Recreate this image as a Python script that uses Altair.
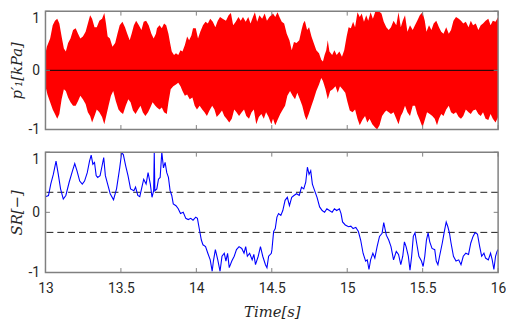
import altair as alt
import pandas as pd

# ---------------- data ----------------
# bottom panel: SR(t)
sr_time = [13.000, 13.020, 13.035, 13.052, 13.070, 13.085, 13.100, 13.118, 13.135, 13.157,
           13.179, 13.194, 13.209, 13.227, 13.244, 13.259, 13.277, 13.292, 13.303, 13.314,
           13.325, 13.336, 13.346, 13.362, 13.375, 13.386, 13.397, 13.412, 13.429, 13.451,
           13.471, 13.492, 13.505, 13.516, 13.532, 13.547, 13.564, 13.586, 13.597, 13.612,
           13.625, 13.641, 13.651, 13.667, 13.680, 13.695, 13.706, 13.717, 13.721, 13.725,
           13.738, 13.749, 13.760, 13.771, 13.782, 13.793, 13.804, 13.815, 13.826, 13.837,
           13.847, 13.865, 13.880, 13.895, 13.913, 13.930, 13.946, 13.963, 13.978, 13.996,
           14.007, 14.017, 14.033, 14.044, 14.061, 14.076, 14.092, 14.105, 14.113, 14.126,
           14.142, 14.157, 14.170, 14.185, 14.196, 14.207, 14.218, 14.235, 14.251, 14.266,
           14.283, 14.301, 14.316, 14.327, 14.338, 14.353, 14.370, 14.381, 14.392, 14.410,
           14.425, 14.440, 14.458, 14.468, 14.479, 14.497, 14.501, 14.512, 14.523, 14.534,
           14.545, 14.560, 14.573, 14.588, 14.603, 14.617, 14.632, 14.647, 14.664, 14.682,
           14.697, 14.712, 14.725, 14.736, 14.747, 14.758, 14.769, 14.784, 14.800, 14.817,
           14.834, 14.850, 14.865, 14.882, 14.900, 14.915, 14.930, 14.948, 14.959, 14.969,
           14.987, 15.009, 15.024, 15.039, 15.057, 15.074, 15.089, 15.105, 15.122, 15.133,
           15.144, 15.155, 15.170, 15.183, 15.198, 15.214, 15.231, 15.242, 15.259, 15.275,
           15.290, 15.307, 15.325, 15.340, 15.355, 15.368, 15.379, 15.390, 15.405, 15.416,
           15.427, 15.438, 15.449, 15.460, 15.475, 15.492, 15.503, 15.514, 15.525, 15.536,
           15.547, 15.562, 15.580, 15.590, 15.601, 15.612, 15.630, 15.645, 15.656, 15.667,
           15.678, 15.688, 15.704, 15.721, 15.739, 15.754, 15.769, 15.786, 15.804, 15.819,
           15.834, 15.847, 15.863, 15.878, 15.891, 15.906, 15.917, 15.935, 15.950, 15.961,
           15.972, 15.983, 15.993, 16.000]
sr_value = [0.26, 0.28, 0.47, 0.63, 0.85, 0.63, 0.39, 0.22, 0.28, 0.50,
            0.69, 0.81, 0.69, 0.52, 0.47, 0.52, 0.66, 0.85, 0.95, 0.80,
            0.83, 0.61, 0.58, 0.61, 0.77, 0.91, 0.61, 0.47, 0.31, 0.21,
            0.39, 0.74, 0.99, 0.96, 0.77, 0.61, 0.39, 0.36, 0.42, 0.28,
            0.26, 0.44, 0.55, 0.47, 0.66, 0.47, 0.25, 0.36, 1.00, 0.36,
            0.39, 0.55, 0.58, 1.00, 0.74, 0.83, 0.66, 0.58, 0.36, 0.28,
            0.14, 0.11, 0.06, -0.02, 0.00, -0.10, -0.12, -0.10, -0.13, -0.08,
            -0.10, -0.24, -0.46, -0.54, -0.57, -0.68, -0.79, -0.98, -0.81, -0.62,
            -0.79, -0.98, -0.73, -0.68, -0.81, -0.68, -0.92, -0.81, -0.73, -0.62,
            -0.57, -0.60, -0.68, -0.57, -0.73, -0.68, -0.79, -0.70, -0.87, -0.73,
            -0.57, -0.73, -0.87, -0.92, -0.73, -0.68, -0.62, -0.32, -0.27, -0.08,
            -0.02, -0.05, 0.03, 0.20, 0.25, 0.11, 0.25, 0.28, 0.31, 0.28,
            0.42, 0.39, 0.50, 0.75, 0.63, 0.69, 0.47, 0.36, 0.25, 0.09,
            0.03, 0.00, 0.06, 0.03, 0.00, 0.06, 0.03, 0.06, -0.02, -0.16,
            -0.21, -0.24, -0.23, -0.27, -0.25, -0.32, -0.46, -0.68, -0.81, -0.79,
            -0.95, -0.79, -0.68, -0.76, -0.57, -0.40, -0.35, -0.17, -0.38, -0.46,
            -0.57, -0.79, -0.65, -0.70, -0.87, -0.73, -0.49, -0.57, -0.73, -0.96,
            -0.73, -0.40, -0.34, -0.51, -0.73, -0.81, -0.90, -0.73, -0.46, -0.34,
            -0.49, -0.60, -0.62, -0.81, -0.87, -0.73, -0.51, -0.30, -0.16, -0.24,
            -0.35, -0.51, -0.73, -0.81, -0.79, -0.87, -0.73, -0.68, -0.70, -0.51,
            -0.40, -0.34, -0.36, -0.57, -0.73, -0.68, -0.76, -0.79, -0.68, -0.79,
            -0.95, -0.73, -0.65, -0.62]

# top panel: upper and lower envelope of p'_1 (kPa)
env_up_time = [13.000, 13.009, 13.031, 13.048, 13.063, 13.078, 13.092, 13.107, 13.122, 13.135,
               13.150, 13.166, 13.183, 13.200, 13.216, 13.231, 13.248, 13.266, 13.281, 13.296,
               13.309, 13.325, 13.340, 13.357, 13.375, 13.390, 13.401, 13.412, 13.427, 13.444,
               13.462, 13.477, 13.492, 13.510, 13.527, 13.542, 13.558, 13.571, 13.586, 13.601,
               13.619, 13.636, 13.651, 13.667, 13.684, 13.702, 13.717, 13.732, 13.739, 13.756,
               13.771, 13.786, 13.800, 13.815, 13.826, 13.837, 13.852, 13.865, 13.880, 13.895,
               13.908, 13.924, 13.939, 13.952, 13.967, 13.978, 13.996, 14.011, 14.026, 14.044,
               14.061, 14.076, 14.092, 14.109, 14.126, 14.142, 14.157, 14.174, 14.196, 14.214,
               14.229, 14.244, 14.261, 14.279, 14.294, 14.309, 14.327, 14.344, 14.359, 14.375,
               14.388, 14.403, 14.418, 14.436, 14.453, 14.468, 14.484, 14.508, 14.523, 14.538,
               14.551, 14.566, 14.582, 14.599, 14.617, 14.632, 14.647, 14.664, 14.682, 14.697,
               14.708, 14.719, 14.734, 14.747, 14.763, 14.778, 14.795, 14.813, 14.828, 14.839,
               14.850, 14.861, 14.871, 14.882, 14.900, 14.915, 14.930, 14.948, 14.965, 14.980,
               14.996, 15.009, 15.024, 15.039, 15.052, 15.068, 15.083, 15.096, 15.111, 15.126,
               15.139, 15.155, 15.170, 15.187, 15.209, 15.227, 15.242, 15.259, 15.275, 15.290,
               15.307, 15.325, 15.340, 15.355, 15.368, 15.383, 15.399, 15.416, 15.434, 15.449,
               15.464, 15.481, 15.499, 15.514, 15.525, 15.542, 15.558, 15.573, 15.590, 15.608,
               15.623, 15.638, 15.656, 15.673, 15.688, 15.704, 15.721, 15.739, 15.754, 15.769,
               15.786, 15.804, 15.819, 15.834, 15.852, 15.869, 15.885, 15.900, 15.917, 15.935,
               15.950, 15.965, 15.983, 16.000]
env_up_value = [0.29, 0.40, 0.54, 0.76, 0.84, 0.87, 0.79, 0.57, 0.37, 0.32,
                0.46, 0.54, 0.68, 0.71, 0.62, 0.54, 0.57, 0.65, 0.79, 0.93,
                0.87, 0.73, 0.73, 0.84, 0.87, 0.97, 0.79, 0.57, 0.54, 0.40,
                0.46, 0.62, 0.76, 0.82, 0.73, 0.62, 0.51, 0.62, 0.76, 0.84,
                0.76, 0.68, 0.82, 0.84, 0.76, 0.62, 0.54, 0.62, 0.71, 0.76,
                0.71, 0.79, 0.76, 0.62, 0.46, 0.32, 0.26, 0.29, 0.26, 0.34,
                0.32, 0.43, 0.57, 0.51, 0.59, 0.71, 0.71, 0.54, 0.65, 0.76,
                0.82, 0.79, 0.87, 0.82, 0.73, 0.84, 0.90, 0.87, 0.84, 0.93,
                0.97, 0.76, 0.82, 0.90, 0.84, 0.90, 0.82, 0.90, 0.79, 0.90,
                0.98, 0.82, 0.93, 0.87, 0.96, 0.84, 0.90, 0.96, 0.90, 0.98,
                0.90, 0.82, 0.79, 0.62, 0.51, 0.34, 0.48, 0.46, 0.51, 0.68,
                0.79, 0.84, 0.68, 0.73, 0.57, 0.46, 0.34, 0.29, 0.18, 0.15,
                0.26, 0.34, 0.51, 0.32, 0.26, 0.34, 0.26, 0.32, 0.23, 0.34,
                0.57, 0.73, 0.71, 0.82, 0.73, 0.98, 0.90, 0.96, 0.82, 0.93,
                0.84, 0.98, 0.87, 1.00, 1.00, 0.96, 0.82, 0.73, 0.68, 0.73,
                0.84, 0.76, 0.98, 0.73, 0.84, 0.93, 0.65, 0.76, 0.68, 0.76,
                0.84, 0.93, 0.98, 0.84, 0.65, 0.76, 0.68, 0.79, 0.84, 0.73,
                0.65, 0.62, 0.73, 0.62, 0.68, 0.84, 0.90, 0.87, 0.84, 0.79,
                0.82, 0.73, 0.84, 0.76, 0.79, 0.68, 0.76, 0.79, 0.84, 0.87,
                0.76, 0.84, 0.82, 0.90]
env_lo_time = [13.000, 13.013, 13.031, 13.048, 13.063, 13.078, 13.092, 13.107, 13.122, 13.135,
               13.150, 13.166, 13.183, 13.200, 13.216, 13.231, 13.248, 13.266, 13.281, 13.296,
               13.309, 13.325, 13.340, 13.357, 13.375, 13.390, 13.401, 13.418, 13.434, 13.449,
               13.466, 13.484, 13.499, 13.514, 13.532, 13.549, 13.564, 13.580, 13.597, 13.614,
               13.630, 13.645, 13.662, 13.680, 13.695, 13.710, 13.728, 13.739, 13.756, 13.771,
               13.786, 13.804, 13.815, 13.830, 13.847, 13.865, 13.880, 13.895, 13.908, 13.924,
               13.939, 13.956, 13.974, 13.989, 14.004, 14.022, 14.039, 14.054, 14.070, 14.087,
               14.105, 14.120, 14.135, 14.153, 14.170, 14.185, 14.200, 14.218, 14.235, 14.251,
               14.266, 14.283, 14.301, 14.316, 14.331, 14.349, 14.366, 14.381, 14.397, 14.414,
               14.431, 14.447, 14.462, 14.479, 14.497, 14.508, 14.523, 14.538, 14.556, 14.573,
               14.588, 14.603, 14.621, 14.638, 14.654, 14.669, 14.686, 14.702, 14.719, 14.730,
               14.745, 14.763, 14.778, 14.795, 14.813, 14.828, 14.839, 14.856, 14.871, 14.887,
               14.904, 14.922, 14.937, 14.952, 14.969, 14.987, 15.002, 15.017, 15.035, 15.052,
               15.068, 15.083, 15.100, 15.118, 15.133, 15.148, 15.166, 15.183, 15.198, 15.214,
               15.231, 15.248, 15.259, 15.275, 15.290, 15.307, 15.325, 15.340, 15.355, 15.368,
               15.383, 15.399, 15.416, 15.434, 15.449, 15.464, 15.481, 15.499, 15.514, 15.529,
               15.547, 15.564, 15.580, 15.595, 15.608, 15.623, 15.638, 15.656, 15.673, 15.688,
               15.704, 15.721, 15.739, 15.754, 15.769, 15.786, 15.804, 15.819, 15.834, 15.852,
               15.869, 15.885, 15.900, 15.917, 15.935, 15.950, 15.965, 15.983, 16.000]
env_lo_value = [-0.27, -0.41, -0.54, -0.66, -0.74, -0.82, -0.74, -0.49, -0.32, -0.35,
                -0.46, -0.54, -0.60, -0.60, -0.52, -0.43, -0.49, -0.57, -0.71, -0.77,
                -0.88, -0.77, -0.66, -0.71, -0.79, -0.91, -0.79, -0.60, -0.43, -0.35,
                -0.52, -0.66, -0.71, -0.74, -0.60, -0.49, -0.54, -0.68, -0.74, -0.66,
                -0.60, -0.71, -0.77, -0.71, -0.63, -0.54, -0.60, -0.63, -0.66, -0.63,
                -0.71, -0.74, -0.54, -0.32, -0.27, -0.24, -0.21, -0.27, -0.35, -0.43,
                -0.41, -0.49, -0.46, -0.60, -0.66, -0.60, -0.66, -0.71, -0.77, -0.68,
                -0.60, -0.66, -0.79, -0.74, -0.68, -0.77, -0.82, -0.88, -0.82, -0.66,
                -0.71, -0.77, -0.71, -0.66, -0.77, -0.82, -0.71, -0.66, -0.91, -0.79,
                -0.74, -0.82, -0.71, -0.79, -0.91, -0.82, -0.93, -0.84, -0.74, -0.66,
                -0.60, -0.43, -0.35, -0.43, -0.49, -0.38, -0.49, -0.60, -0.77, -0.84,
                -0.74, -0.60, -0.49, -0.35, -0.24, -0.13, -0.18, -0.32, -0.49, -0.35,
                -0.32, -0.27, -0.38, -0.27, -0.32, -0.38, -0.54, -0.68, -0.71, -0.66,
                -0.82, -0.93, -0.84, -0.77, -0.88, -0.82, -0.91, -0.96, -1.00, -0.93,
                -0.77, -0.71, -0.68, -0.71, -0.74, -0.71, -0.82, -0.91, -0.77, -0.71,
                -0.60, -0.71, -0.77, -0.60, -0.60, -0.74, -0.84, -0.96, -0.84, -0.71,
                -0.74, -0.77, -0.82, -0.93, -0.82, -0.74, -0.77, -0.66, -0.60, -0.71,
                -0.74, -0.71, -0.79, -0.82, -0.77, -0.66, -0.71, -0.74, -0.68, -0.66,
                -0.74, -0.77, -0.71, -0.82, -0.84, -0.74, -0.82, -0.88, -0.79]

x_ticks = [13, 13.5, 14, 14.5, 15, 15.5, 16]
y_ticks = [-1, 0, 1]
sr_thresholds = [1 / 3, -1 / 3]
zero_level = [0]

# ---------------- styling ----------------
W, H1, H2, TL = 459, 120, 122, 4.5
FRAME = "#808080"
TXT = "#262626"
LF = "Roboto"
TF = "DejaVu Serif"

xs = alt.Scale(domain=[13, 16], nice=False, zero=False)
ys = alt.Scale(domain=[-1, 1], nice=False, zero=False)


def y_axis(title):
    return alt.Axis(values=y_ticks, labelExpr="datum.value", ticks=False, domain=False, grid=False,
                    labelFont=LF, labelFontSize=14, labelColor=TXT, labelPadding=6,
                    labelBaseline={"condition": {"test": "datum.value == 1", "value": "top"}, "value": "middle"},
                    title=title, titleFont=TF, titleFontStyle="italic", titleFontWeight="normal",
                    titleFontSize=15, titleColor=TXT, titlePadding=4)


x_axis_bottom = alt.Axis(values=x_ticks, labelExpr="datum.value", ticks=False, domain=False, grid=False,
                         labelFlush=False, labelFont=LF, labelFontSize=14, labelColor=TXT, labelPadding=9,
                         title="Time[s]", titleFont=TF, titleFontStyle="italic", titleFontWeight="normal",
                         titleFontSize=15, titleColor=TXT, titlePadding=10)

up_df = pd.DataFrame({"t": env_up_time, "v": env_up_value})
lo_df = pd.DataFrame({"t": env_lo_time, "v": env_lo_value})
sr_df = pd.DataFrame({"t": sr_time, "v": sr_value})
xt_df = pd.DataFrame({"t": x_ticks})
yt_df = pd.DataFrame({"v": y_ticks})
th_df = pd.DataFrame({"v": sr_thresholds})
z_df = pd.DataFrame({"v": zero_level})
one_df = pd.DataFrame({"a": [0]})


def frame_layers(H, xax, yax):
    X = alt.X("t:Q", scale=xs, axis=xax)
    Y = alt.Y("v:Q", scale=ys, axis=yax)
    tick_style = dict(color=FRAME, strokeWidth=1)
    return [
        alt.Chart(xt_df).mark_rule(**tick_style).encode(x=X, y=alt.value(0), y2=alt.value(TL)),
        alt.Chart(xt_df).mark_rule(**tick_style).encode(x=X, y=alt.value(H - TL), y2=alt.value(H)),
        alt.Chart(yt_df).mark_rule(**tick_style).encode(y=Y, x=alt.value(0), x2=alt.value(TL)),
        alt.Chart(yt_df).mark_rule(**tick_style).encode(y=Y, x=alt.value(W - TL), x2=alt.value(W)),
        alt.Chart(one_df).mark_rect(fillOpacity=0, stroke=FRAME, strokeWidth=1.5).encode(
            x=alt.value(0), x2=alt.value(W), y=alt.value(0), y2=alt.value(H)),
    ]


# top panel
yax_top = y_axis("p′₁[kPa]")
Xt = alt.X("t:Q", scale=xs, axis=None)
Yt = alt.Y("v:Q", scale=ys, axis=yax_top)
upper = alt.Chart(up_df).mark_area(color="#ff0000", clip=True).encode(x=Xt, y=Yt, y2=alt.datum(0))
lower = alt.Chart(lo_df).mark_area(color="#ff0000", clip=True).encode(x=Xt, y=Yt, y2=alt.datum(0))
zero = alt.Chart(z_df).mark_rule(color="black", strokeWidth=1).encode(y=Yt)
top = alt.layer(upper, lower, zero, *frame_layers(H1, None, yax_top)).properties(width=W, height=H1)

# bottom panel
yax_bot = y_axis("SR[−]")
Xb = alt.X("t:Q", scale=xs, axis=x_axis_bottom)
Yb = alt.Y("v:Q", scale=ys, axis=yax_bot)
dashed = alt.Chart(th_df).mark_rule(color="#1a1a1a", strokeWidth=1, strokeDash=[7, 4]).encode(y=Yb)
line = alt.Chart(sr_df).mark_line(color="#0000ff", strokeWidth=1.1, clip=True).encode(x=Xb, y=Yb)
bottom = alt.layer(dashed, line, *frame_layers(H2, x_axis_bottom, yax_bot)).properties(width=W, height=H2)

chart = alt.vconcat(top, bottom, spacing=23, bounds="flush").properties(
    padding={"left": 1, "top": 0, "right": 0, "bottom": 0},
    background="white",
).configure_view(stroke=None).configure_axis(
    labelFont=LF, titleFont=TF, titleFontStyle="italic"
)

chart.save("out.html", embed_options={"renderer": "svg", "actions": False})
